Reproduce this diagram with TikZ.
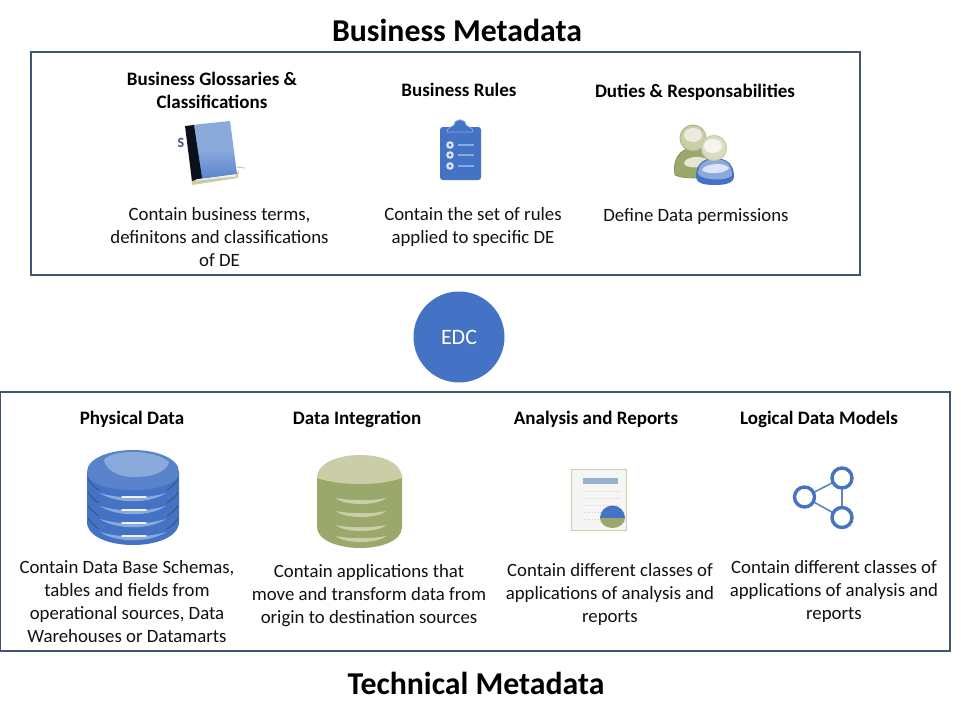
\documentclass[tikz,border=0pt]{standalone}
\usepackage{fontspec}
\setmainfont{Carlito}
\definecolor{frame}{HTML}{3F5478}
\definecolor{ablue}{HTML}{4472C4}
\definecolor{lblue}{HTML}{8AAADC}
\definecolor{agreen}{HTML}{9BA86C}
\definecolor{lgreen}{HTML}{CBCDA8}
\definecolor{txt}{HTML}{111111}
\tikzset{
 x=1pt,y=-1pt,
 panel/.style={draw=frame,line width=1.6pt},
 bigtitle/.style={font=\bfseries\fontsize{31.8}{34}\selectfont,text=black,inner sep=0pt},
 head/.style={font=\bfseries\fontsize{19}{23}\selectfont,text=black,align=center,inner sep=0pt},
 body/.style={font=\fontsize{18.8}{23}\selectfont,text=txt,align=center,inner sep=0pt},
 hub/.style={circle,fill=ablue,minimum size=91pt,inner sep=0pt,text=white,font=\fontsize{22}{24}\selectfont},
 netring/.style={draw=ablue,line width=3.4pt,fill=white,circle,minimum size=20pt,inner sep=0pt},
 netlink/.style={draw=ablue!80!lgreen,line width=1.6pt},
}
\begin{document}
\begin{tikzpicture}
\useasboundingbox (0,0) rectangle (961,720);
\fill[white] (0,0) rectangle (961,720);
% frames
\draw[panel] (31,52) rectangle (860,275);
\draw[panel] (0,392) rectangle (950,651);
% titles
\node[bigtitle] (bm) at (457,30) {Business Metadata};
\node[bigtitle] (tm) at (476,683) {Technical Metadata};
\node[hub] (edc) at (459,337) {EDC};
% headings top
\node[head] (h1) at (212,90) {Business Glossaries \&\\Classifications};
\node[head] (h2) at (459,90) {Business Rules};
\node[head] (h3) at (695,92) {Duties \& Responsabilities};
% body top
\node[body] (b1) at (219.5,237) {Contain business terms,\\definitons and classifications\\of DE};
\node[body] (b2) at (473,227) {Contain the set of rules\\applied to specific DE};
\node[body] (b3) at (696,216.5) {Define Data permissions};
% headings bottom
\node[head] (h4) at (132,419) {Physical Data};
\node[head] (h5) at (357,419) {Data Integration};
\node[head] (h6) at (596,419) {Analysis and Reports};
\node[head] (h7) at (819,419) {Logical Data Models};
% body bottom
\node[body] (b4) at (127,602) {Contain Data Base Schemas,\\tables and fields from\\operational sources, Data\\Warehouses or Datamarts};
\node[body] (b5) at (369,595.5) {Contain applications that\\move and transform data from\\origin to destination sources};
\node[body] (b6) at (610,594.5) {Contain different classes of\\applications of analysis and\\reports};
\node[body] (b7) at (834,591) {Contain different classes of\\applications of analysis and\\reports};
% book
\node[font=\bfseries\fontsize{14}{14}\selectfont,text=frame,inner sep=0pt] (frag) at (181,143) {S};
\fill[lgreen] (187,128) -- (192,185) -- (238,178) -- (239,170) -- (235,176) -- (195,180) -- cycle;
\shade[top color=lblue,bottom color=ablue!70!lblue,middle color=lblue] (192,125) -- (230,121) -- (237,174) -- (200,179) -- cycle;
\fill[black!85!ablue] (185,126) -- (194,125) -- (202,178) -- (192,181) -- cycle;
\draw[lgreen,line width=1pt] (237,167) -- (245,168);
\draw[white!60!lgreen,line width=1.2pt] (196,180) -- (236,176);
% clipboard
\fill[ablue] (443,127) -- (478,127) .. controls (480,127) and (481,128) .. (481,130) -- (481,177) .. controls (481,179) and (480,180) .. (478,180) -- (443,180) .. controls (441,180) and (440,179) .. (440,177) -- (440,130) .. controls (440,128) and (441,127) .. (443,127) -- cycle;
\fill[ablue,draw=lblue,line width=0.8pt] (447,132) .. controls (446,128) and (452,127) .. (454,125) .. controls (455,118) and (465,118) .. (466,125) .. controls (468,127) and (474,128) .. (473,132) -- cycle;
\foreach \yy in {145,155,166}{
 \fill[white!70!lblue] (450,\yy) circle (3.8);
 \fill[ablue] (450,\yy) circle (1.6);
 \draw[lblue,line width=2.2pt] (458,\yy) -- (474,\yy);
}
% people
\fill[agreen,draw=agreen!80!black,line width=.6pt] (675,175) .. controls (672,160) and (680,148) .. (693,148) .. controls (706,148) and (714,160) .. (712,175) .. controls (705,179) and (682,179) .. (675,175) -- cycle;
\fill[white!50!lgreen] (684,164) .. controls (684,156) and (702,155) .. (708,160) .. controls (706,168) and (690,170) .. (684,164) -- cycle;
\draw[agreen!80!white,line width=1pt,fill=lgreen] (693,138) circle (13);
\fill[white!60!lgreen] (693,135) ellipse (9 and 7);
\fill[ablue] (696,176) .. controls (696,162) and (706,158) .. (715,158) .. controls (726,158) and (734,164) .. (734,176) .. controls (734,183) and (726,185) .. (715,185) .. controls (703,185) and (696,183) .. (696,176) -- cycle;
\fill[lblue] (698,174) .. controls (698,162) and (708,159) .. (715,159) .. controls (726,159) and (732,165) .. (732,175) .. controls (730,181) and (702,181) .. (698,174) -- cycle;
\fill[white!70!lblue] (702,170) .. controls (704,163) and (726,162) .. (729,168) .. controls (726,174) and (706,175) .. (702,170) -- cycle;
\draw[agreen!60!white,line width=1pt,fill=lgreen!70!white] (714,148) circle (12.5);
\fill[white!80!lgreen] (713,146) ellipse (9 and 7);
% blue cylinder
\fill[ablue] (87,472) -- (87,522) .. controls (87,537) and (110,545) .. (133,545) .. controls (156,545) and (179,537) .. (179,522) -- (179,472) -- cycle;
\fill[ablue!70!lblue] (87,472) .. controls (87,458) and (110,450) .. (133,450) .. controls (156,450) and (179,458) .. (179,472) .. controls (179,484) and (156,490) .. (133,490) .. controls (110,490) and (87,484) .. (87,472) -- cycle;
\fill[lblue] (104,460) .. controls (112,449) and (155,449) .. (169,462) .. controls (165,474) and (150,477) .. (133,477) .. controls (118,477) and (106,470) .. (104,460) -- cycle;
\foreach \yy in {497,510,523,536}{
 \fill[lblue] (100,\yy-4) .. controls (120,\yy+2) and (146,\yy+2) .. (166,\yy-4) .. controls (150,\yy+7) and (116,\yy+7) .. (100,\yy-4) -- cycle;
 \draw[white!85!lblue,line width=1.4pt,line cap=round] (122,\yy) -- (146,\yy);
}
\foreach \yy in {479,492,505,518}{
 \draw[frame,line width=0.9pt] (88,\yy) .. controls (90,\yy+4) and (94,\yy+8) .. (99,\yy+11);
 \draw[frame,line width=0.9pt] (178,\yy) .. controls (176,\yy+4) and (172,\yy+8) .. (167,\yy+11);
}
% green cylinder
\fill[agreen] (317,475) -- (317,527) .. controls (317,541) and (340,548) .. (360,548) .. controls (381,548) and (402,541) .. (402,527) -- (402,475) -- cycle;
\fill[lgreen] (317,478) .. controls (317,462) and (340,455) .. (360,455) .. controls (381,455) and (402,462) .. (402,478) .. controls (380,486) and (340,486) .. (317,478) -- cycle;
\foreach \yy in {499,512,526,537}{
 \fill[lgreen] (336,\yy-1) .. controls (350,\yy+2) and (372,\yy+2) .. (386,\yy-1) .. controls (378,\yy+7) and (344,\yy+7) .. (336,\yy-1) -- cycle;
}
% report
\fill[black!4!white,draw=lgreen,line width=0.9pt] (571,469) rectangle (626,530);
\fill[lblue!80!lgreen] (583,478) rectangle (618,484);
\foreach \yy in {491,498,505,512,519}{
 \draw[lgreen!80!white,line width=0.7pt,dotted] (584,\yy) -- (620,\yy);
}
\fill[ablue] (600,518) arc[start angle=180,end angle=360,x radius=12.5,y radius=12.5] -- cycle;
\fill[lblue] (601,518) rectangle (624,522);
\fill[agreen] (600,518) arc[start angle=180,end angle=0,x radius=12.5,y radius=10] -- cycle;
% network
\draw[netlink] (804.5,497) -- (842,478);
\draw[netlink] (804.5,497) -- (842,517.5);
\draw[netlink] (842,478) -- (842,517.5);
\node[netring] (n1) at (804.5,497) {};
\node[netring] (n2) at (842,478) {};
\node[netring] (n3) at (842,517.5) {};
\end{tikzpicture}
\end{document}
